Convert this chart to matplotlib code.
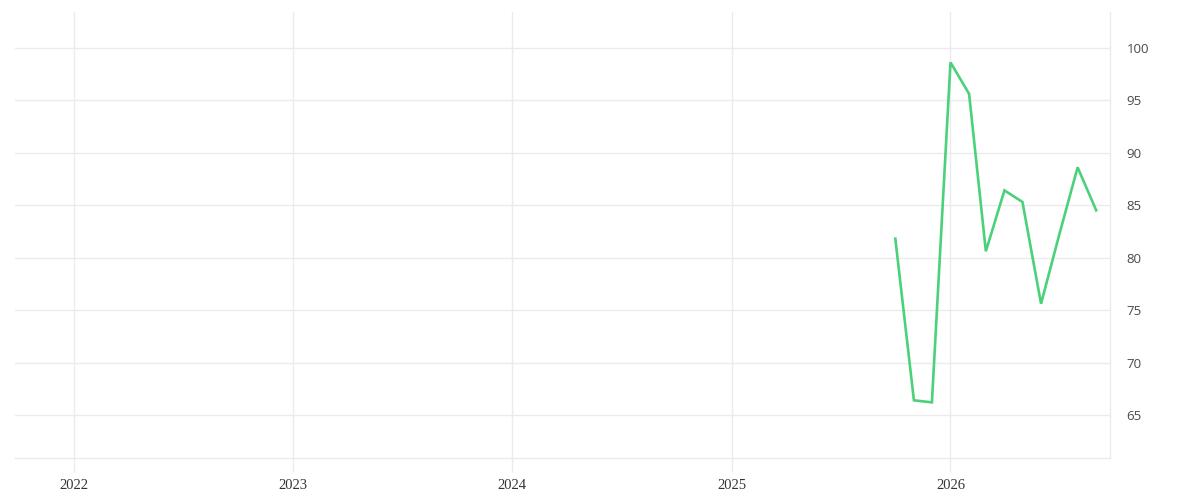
import datetime as dt
import matplotlib
matplotlib.use("Agg")
import matplotlib.pyplot as plt
import matplotlib.dates as mdates

# monthly values
months = ["2025-10", "2025-11", "2025-12", "2026-01", "2026-02", "2026-03",
          "2026-04", "2026-05", "2026-06", "2026-07", "2026-08", "2026-09"]
values = [81.8, 66.4, 66.2, 98.6, 95.6, 80.6, 86.4, 85.3, 75.6, 82.1, 88.6, 84.5]
year_ticks = [2022, 2023, 2024, 2025, 2026]
y_ticks = [65, 70, 75, 80, 85, 90, 95, 100]

dates = [dt.datetime.strptime(m, "%Y-%m") for m in months]

GRID = "#ebebeb"
LINE = "#4cd17b"

fig = plt.figure(figsize=(12, 5), dpi=100)
ax = fig.add_axes([0.0125, 0.084, 0.9125, 0.892])

ax.plot(dates, values, color=LINE, lw=1.9, solid_joinstyle="miter")

ax.set_xlim(dt.datetime(2021, 9, 24), dt.datetime(2026, 9, 24))
ax.set_ylim(60.9, 103.4)

ax.set_xticks([dt.datetime(y, 1, 1) for y in year_ticks])
ax.xaxis.set_major_formatter(mdates.DateFormatter("%Y"))
ax.set_yticks(y_ticks)

ax.grid(True, color=GRID, lw=1)
ax.set_axisbelow(True)

ax.yaxis.tick_right()
ax.tick_params(axis="y", length=0, pad=12, labelsize=9.5, labelcolor="#4a4a4a")
ax.tick_params(axis="x", length=10, width=1, color=GRID, pad=5, labelsize=10.5,
               labelcolor="#333333")
for lab in ax.get_xticklabels():
    lab.set_family("Liberation Serif")
for lab in ax.get_yticklabels():
    lab.set_family("Open Sans")

for s in ("left", "top"):
    ax.spines[s].set_visible(False)
ax.spines["bottom"].set_color(GRID)
ax.spines["right"].set_color(GRID)
ax.spines["bottom"].set_linewidth(1)
ax.spines["right"].set_linewidth(1)

fig.savefig("out.png", dpi=100, facecolor="white")
